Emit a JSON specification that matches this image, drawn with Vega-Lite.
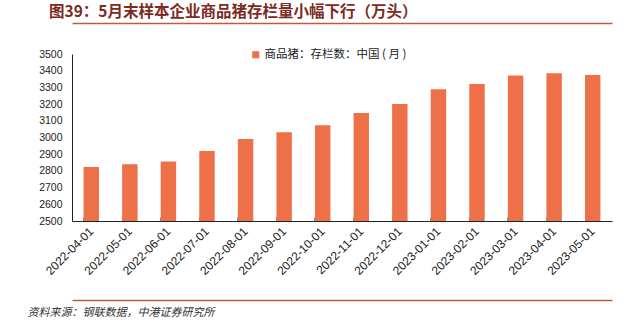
{
  "$schema": "https://vega.github.io/schema/vega-lite/v6.json",
  "width": 540,
  "height": 167,
  "autosize": {"type": "none"},
  "padding": {"left": 72, "top": 54, "right": 24, "bottom": 104},
  "background": "white",
  "config": {
    "view": {"stroke": null},
    "font": "Liberation Sans, Noto Sans CJK SC"
  },
  "title": {
    "text": "图39：5月末样本企业商品猪存栏量小幅下行（万头）",
    "anchor": "start",
    "frame": "group",
    "dx": -23,
    "dy": -3,
    "offset": 0,
    "fontSize": 15.5,
    "fontWeight": "bold",
    "color": "#7d2a1f",
    "font": "Noto Sans CJK SC"
  },
  "data": {
    "values": [
      {"date": "2022-04-01", "value": 2823, "series": "商品猪：存栏数：中国 ( 月 )"},
      {"date": "2022-05-01", "value": 2840, "series": "商品猪：存栏数：中国 ( 月 )"},
      {"date": "2022-06-01", "value": 2857, "series": "商品猪：存栏数：中国 ( 月 )"},
      {"date": "2022-07-01", "value": 2919, "series": "商品猪：存栏数：中国 ( 月 )"},
      {"date": "2022-08-01", "value": 2991, "series": "商品猪：存栏数：中国 ( 月 )"},
      {"date": "2022-09-01", "value": 3031, "series": "商品猪：存栏数：中国 ( 月 )"},
      {"date": "2022-10-01", "value": 3073, "series": "商品猪：存栏数：中国 ( 月 )"},
      {"date": "2022-11-01", "value": 3146, "series": "商品猪：存栏数：中国 ( 月 )"},
      {"date": "2022-12-01", "value": 3201, "series": "商品猪：存栏数：中国 ( 月 )"},
      {"date": "2023-01-01", "value": 3289, "series": "商品猪：存栏数：中国 ( 月 )"},
      {"date": "2023-02-01", "value": 3320, "series": "商品猪：存栏数：中国 ( 月 )"},
      {"date": "2023-03-01", "value": 3372, "series": "商品猪：存栏数：中国 ( 月 )"},
      {"date": "2023-04-01", "value": 3384, "series": "商品猪：存栏数：中国 ( 月 )"},
      {"date": "2023-05-01", "value": 3374, "series": "商品猪：存栏数：中国 ( 月 )"}
    ]
  },
  "resolve": {"axis": {"x": "independent"}},
  "layer": [
    {
      "mark": {"type": "bar", "color": "#ee7049", "clip": true},
      "encoding": {
        "x": {
          "field": "date",
          "type": "nominal",
          "sort": null,
          "scale": {"paddingInner": 0.6, "paddingOuter": 0.3},
          "axis": {
            "orient": "bottom",
            "title": null,
            "labelAngle": -45,
            "labelAlign": "right",
            "labelBaseline": "middle",
            "labelFontSize": 12,
            "labelColor": "#222",
            "labelPadding": 12,
            "labelOffset": 0,
            "bandPosition": 0,
            "ticks": true,
            "tickSize": -4,
            "tickColor": "#888",
            "domainColor": "#222",
            "domainWidth": 1,
            "grid": false
          }
        },
        "y": {
          "field": "value",
          "type": "quantitative",
          "scale": {"domain": [2500, 3500], "nice": false, "zero": false},
          "axis": {
            "title": null,
            "format": "d",
            "values": [2500, 2600, 2700, 2800, 2900, 3000, 3100, 3200, 3300, 3400, 3500],
            "grid": false,
            "ticks": false,
            "labelPadding": 10,
            "labelFontSize": 10.5,
            "labelColor": "#222",
            "domainColor": "#222",
            "domainWidth": 1
          }
        },
        "color": {
          "field": "series",
          "type": "nominal",
          "scale": {"range": ["#ee7049"]},
          "legend": {
            "title": null,
            "orient": "none",
            "legendX": 178,
            "legendY": -5,
            "symbolType": "square",
            "symbolSize": 50,
            "symbolStrokeWidth": 0,
            "labelFontSize": 11.5,
            "labelColor": "#222",
            "labelOffset": 3,
            "labelFont": "Noto Sans CJK SC"
          }
        }
      }
    },
    {
      "mark": {"type": "rule", "strokeOpacity": 0},
      "encoding": {
        "x": {
          "field": "date",
          "type": "nominal",
          "sort": null,
          "axis": {
            "orient": "top",
            "offset": 31,
            "title": null,
            "labels": false,
            "ticks": false,
            "domainColor": "#c4583f",
            "domainWidth": 1.6,
            "grid": false
          }
        }
      }
    },
    {
      "mark": {"type": "rule", "strokeOpacity": 0},
      "encoding": {
        "x": {
          "field": "date",
          "type": "nominal",
          "sort": null,
          "axis": {
            "orient": "bottom",
            "offset": 79,
            "title": "资料来源：钢联数据，中港证券研究所",
            "titleAnchor": "start",
            "titleAlign": "left",
            "titleBaseline": "middle",
            "titleX": -45,
            "titleY": 12,
            "titleFontSize": 11,
            "titleFontWeight": "normal",
            "titleFontStyle": "italic",
            "titleColor": "#333",
            "titleFont": "Noto Sans CJK SC",
            "labels": false,
            "ticks": false,
            "domainColor": "#c4583f",
            "domainWidth": 1.6,
            "grid": false
          }
        }
      }
    }
  ]
}
